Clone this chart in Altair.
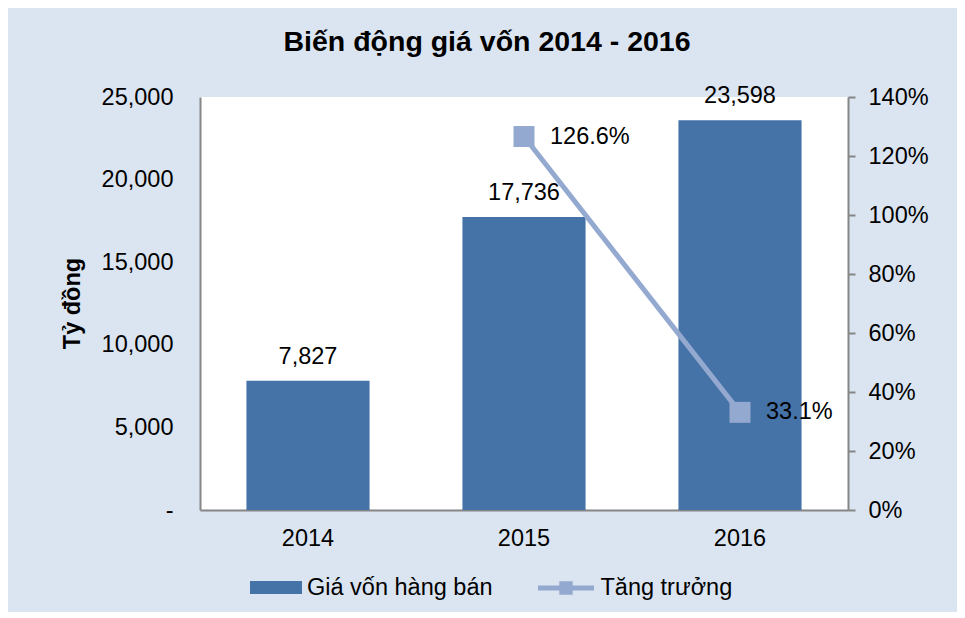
import altair as alt
import pandas as pd

years = ["2014", "2015", "2016"]
cost_values = [7827, 17736, 23598]
growth_values = [None, 126.6, 33.1]
growth_labels = ["", "126.6%", "33.1%"]
bar_series = "Giá vốn hàng bán"
line_series = "Tăng trưởng"

BAR = "#4572a7"
LINE = "#94a9cf"
GRAY = "#868686"
FONT = "Liberation Sans"
FS = 23.5

df = pd.DataFrame({
    "year": years,
    "cost": cost_values,
    "cost_label": [f"{v:,}" for v in cost_values],
    "growth": growth_values,
    "growth_label": growth_labels,
    "bs": [bar_series] * 3,
    "ls": [line_series] * 3,
})

x = alt.X("year:N", title=None,
          scale=alt.Scale(paddingInner=0.43, paddingOuter=0.215),
          axis=alt.Axis(labelAngle=0, ticks=False, labelPadding=16, domainColor=GRAY,
                        domainWidth=2, labelFontSize=FS, labelFont=FONT, labelColor="black"))

yl = alt.Y("cost:Q", scale=alt.Scale(domain=[0, 25000], nice=False),
           axis=alt.Axis(values=[0, 5000, 10000, 15000, 20000, 25000],
                         labelExpr="datum.value == 0 ? '-' : format(datum.value, ',')",
                         ticks=False, grid=False, labelPadding=27, domainColor=GRAY, domainWidth=2,
                         labelFontSize=FS, labelFont=FONT, labelColor="black",
                         title="Tỷ đồng", titleFontSize=FS, titleFont=FONT, titleFontWeight="bold",
                         titleColor="black", titleX=-128, titleY=206, titleAngle=270,
                         titleAlign="center", titleBaseline="middle"))

bars = alt.Chart(df).mark_bar().encode(
    x=x, y=yl,
    fill=alt.Fill("bs:N", scale=alt.Scale(range=[BAR]),
                  legend=alt.Legend(title=None, orient="none", legendX=50, legendY=464.5,
                                    symbolType="M-1,-0.25H1V0.25H-1Z", symbolSize=2704,
                                    symbolStrokeWidth=0, labelFontSize=FS, labelFont=FONT,
                                    labelColor="black", labelOffset=5, padding=0, labelLimit=400)),
)
bar_text = alt.Chart(df).mark_text(baseline="alphabetic", dy=-17, fontSize=FS, font=FONT, color="black").encode(
    x=x, y=yl, text="cost_label:N")

yr = alt.Y("growth:Q", scale=alt.Scale(domain=[0, 140], nice=False),
           axis=alt.Axis(orient="right", values=[0, 20, 40, 60, 80, 100, 120, 140],
                         labelExpr="datum.value + '%'", grid=False, tickSize=7, tickColor=GRAY,
                         tickWidth=2, labelPadding=13, domainColor=GRAY, domainWidth=2,
                         labelFontSize=FS, labelFont=FONT, labelColor="black", title=None))

gdf = alt.Chart(df).transform_filter("isValid(datum.growth)")
line = gdf.mark_line(strokeWidth=5).encode(
    x=x, y=yr,
    stroke=alt.Stroke("ls:N", scale=alt.Scale(range=[LINE]),
                      legend=alt.Legend(title=None, orient="none", legendX=335.5, legendY=460.5,
                                        symbolType="M-1,0H1M-0.15,-0.15H0.15V0.15H-0.15Z",
                                        symbolSize=3136, symbolStrokeWidth=5,
                                        symbolFillColor=LINE, labelFontSize=FS, labelFont=FONT,
                                        labelColor="black", labelOffset=4, padding=0, labelLimit=400)),
)
points = gdf.mark_point(shape="square", filled=True, size=441, opacity=1, color=LINE).encode(x=x, y=yr)
line_text = gdf.mark_text(align="left", baseline="middle", dx=26, fontSize=FS, font=FONT, color="black").encode(
    x=x, y=yr, text="growth_label:N")

left = alt.layer(bars, bar_text)
right = alt.layer(line, points, line_text)

chart = alt.layer(left, right).resolve_scale(y="independent", fill="independent", stroke="independent").properties(
    width=648, height=413,
    title=alt.TitleParams("Biến động giá vốn 2014 - 2016", fontSize=28.5, font=FONT, fontWeight="bold",
                          color="black", anchor="middle", dx=-37, offset=28),
    autosize=alt.AutoSizeParams(type="none"),
    padding={"left": 192, "top": 89, "right": 109, "bottom": 102},
    background="#dbe5f1",
).configure_view(fill="white", strokeWidth=0)

chart.save("out.html", embed_options={"renderer": "svg", "actions": False})
